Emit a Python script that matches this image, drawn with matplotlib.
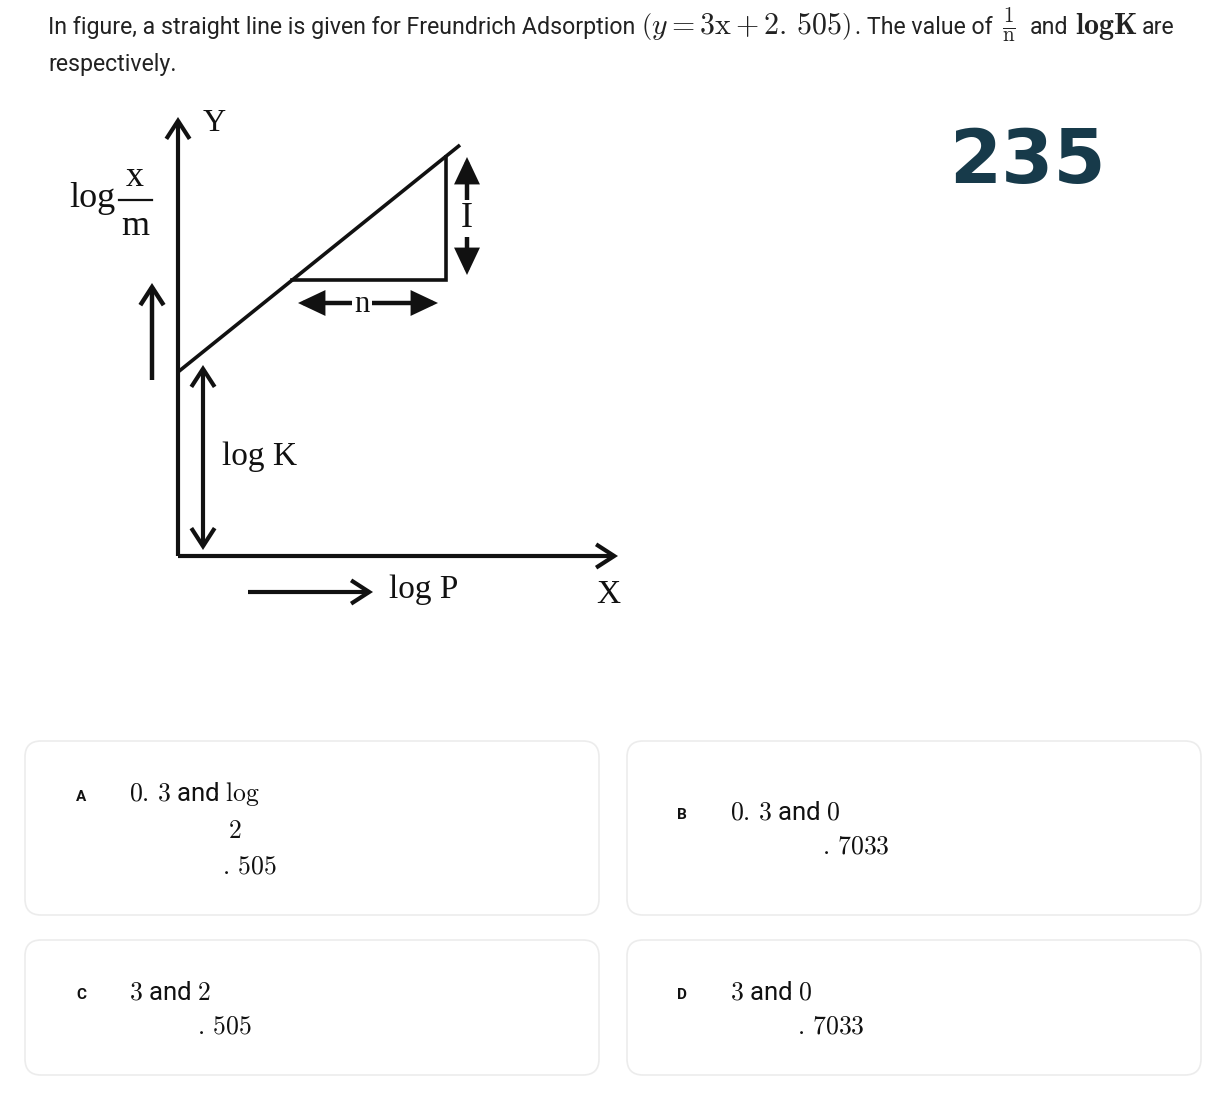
import matplotlib
matplotlib.use('Agg')
import matplotlib.pyplot as plt
from matplotlib.patches import FancyBboxPatch

plt.rcParams['font.family'] = ['Roboto', 'DejaVu Sans']
plt.rcParams['mathtext.fontset'] = 'cm'

W, H = 1224, 1109
INK = '#111111'
SERIF = ['Liberation Serif', 'DejaVu Serif']

# question text, pieces of line 1 and their left edges
q_pieces = ['In figure, a straight line is given for Freundrich Adsorption',
            r'$\left(y=3\mathrm{x}+2.\,505\right)$',
            '. The value of',
            r'$\frac{1}{\mathrm{n}}$',
            'and',
            r'$\mathbf{logK}$',
            'are']
q_left = [48, 641, 855, 1002, 1030, 1075, 1142]
q_line2 = 'respectively.'

# answer options
opt_letters = ['A', 'B', 'C', 'D']
opt_main = [r'$0.\,3$ and $\log$', r'$0.\,3$ and $0$', r'$3$ and $2$', r'$3$ and $0$']
opt_wrap = [[r'$2$', r'$.\,505$'], [r'$.\,7033$'], [r'$.\,505$'], [r'$.\,7033$']]

# diagram (units: px, origin at the corner of the two axes)
y_axis = [(0, 0), (0, 439)]
x_axis = [(0, 0), (440, 0)]
line_x = [0, 282]          # log P
line_y = [184, 411]        # log x/m
tri_x = [114, 268, 268]
tri_y = [276, 276, 399]
slope_arrow = [(289, 281), (289, 399)]   # "I"
run_arrow = [(120, 253), (260, 253)]     # "n"
logk_arrow = [(25, 6), (25, 191)]
up_arrow = [(-26, 176), (-26, 273)]
right_arrow = [(70, -36), (195, -36)]

fig = plt.figure(figsize=(W / 100, H / 100), dpi=100)
fig.patch.set_facecolor('white')

ax = fig.add_axes([0, 0, 1, 1])
ax.set_xlim(0, W)
ax.set_ylim(H, 0)
ax.set_axis_off()

# question
for txt, x in zip(q_pieces, q_left):
    fs = 21.5 if txt.startswith('$') else 16.7
    ax.text(x, 34, txt, fontsize=fs, color='#222222', ha='left', va='baseline')
ax.text(48, 71, q_line2, fontsize=16.7, color='#222222', ha='left', va='baseline')

# the handwritten number
ax.text(1027, 162, '235', fontsize=54, fontweight='bold', color='#173a4a',
        ha='center', va='center', family='DejaVu Sans')

# option cards
box_x = [25, 627, 25, 627]
box_y = [741, 741, 940, 940]
box_h = [174, 174, 135, 135]
for bx, by, bh in zip(box_x, box_y, box_h):
    ax.add_patch(FancyBboxPatch((bx, by), 574, bh,
                                boxstyle='round,pad=0,rounding_size=16',
                                fc='white', ec='#ececec', lw=1.2))

letter_pos = [(81, 797), (682, 815), (81, 995), (682, 995)]
main_pos = [(129, 801), (730, 819), (129, 999), (730, 999)]
wrap_pos = [[(228, 838), (222, 873)], [(822, 854)], [(197, 1033)], [(797, 1033)]]
for i in range(4):
    lx, ly = letter_pos[i]
    ax.text(lx, ly, opt_letters[i], fontsize=11, fontweight='bold', color=INK,
            ha='center', va='center')
    mx, my = main_pos[i]
    ax.text(mx, my, opt_main[i], fontsize=18.5, color=INK, ha='left', va='baseline')
    for s, (wx, wy) in zip(opt_wrap[i], wrap_pos[i]):
        ax.text(wx, wy, s, fontsize=18.5, color=INK, ha='left', va='baseline')

# diagram axes, 1 unit = 1 px
axd = fig.add_axes([0, 0, 1, 1])
axd.set_xlim(-178, W - 178)
axd.set_ylim(-(H - 556), 556)
axd.set_axis_off()


def arrow(p0, p1, style, lw=3.0, ms=20):
    axd.annotate('', xy=p1, xytext=p0,
                 arrowprops=dict(arrowstyle=style, lw=lw, color=INK,
                                 shrinkA=0, shrinkB=0, mutation_scale=ms,
                                 joinstyle='miter', capstyle='butt'))


open_head = '->,head_length=0.65,head_width=0.42'
both_open = '<->,head_length=0.65,head_width=0.42'
both_fill = '<|-|>,head_length=0.72,head_width=0.34'

arrow(y_axis[0], y_axis[1], open_head)
arrow(x_axis[0], x_axis[1], open_head)
axd.plot(line_x, line_y, color=INK, lw=2.6, solid_capstyle='butt')
axd.plot(tri_x, tri_y, color=INK, lw=2.6, solid_joinstyle='miter')
arrow(slope_arrow[0], slope_arrow[1], both_fill, lw=3.2)
arrow(run_arrow[0], run_arrow[1], both_fill, lw=3.2)
arrow(logk_arrow[0], logk_arrow[1], both_open, lw=3.0)
arrow(up_arrow[0], up_arrow[1], open_head, lw=3.2)
arrow(right_arrow[0], right_arrow[1], open_head, lw=3.0)

white = dict(fc='white', ec='none', pad=1.5)
axd.text(36, 425, 'Y', fontsize=23, family=SERIF, color=INK, ha='center', va='baseline')
axd.text(430, -47, 'X', fontsize=24, family=SERIF, color=INK, ha='center', va='baseline')
axd.text(246, -42, 'log P', fontsize=24, family=SERIF, color=INK, ha='center', va='baseline')
axd.text(81, 91, 'log K', fontsize=24, family=SERIF, color=INK, ha='center', va='baseline')
axd.text(289, 329, 'I', fontsize=26, family=SERIF, color=INK, ha='center', va='baseline',
         bbox=white, zorder=5)
axd.text(184, 244, 'n', fontsize=22, family=SERIF, color=INK, ha='center', va='baseline',
         bbox=white, zorder=5)
axd.text(-86, 349, 'log', fontsize=26, family=SERIF, color=INK, ha='center', va='baseline')
axd.text(-43, 370, 'x', fontsize=26, family=SERIF, color=INK, ha='center', va='baseline')
axd.text(-43, 321, 'm', fontsize=26, family=SERIF, color=INK, ha='center', va='baseline')
axd.plot([-59, -26], [356, 356], color=INK, lw=1.6)

fig.savefig('out.png', dpi=100, facecolor='white')
